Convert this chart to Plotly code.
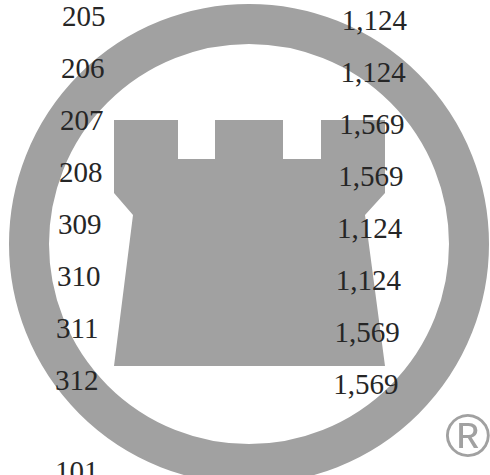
import plotly.graph_objects as go

# ---- data ----
row_labels = ["205", "206", "207", "208", "309", "310", "311", "312"]
row_values = [1124, 1124, 1569, 1569, 1124, 1124, 1569, 1569]
next_labels = ["101"]

W, H = 490, 475
GRAY = "#a1a1a1"
INK = "#262626"

n = len(row_labels)
row_pitch = 51.9
y_left = [19 + row_pitch * i for i in range(n)]
y_right = [y + 4 for y in y_left]
x_left = [62 - 1.0 * i for i in range(n)]
x_right = [407 - 1.2 * i for i in range(n)]

value_text = [f"{v:,}" for v in row_values]

fig = go.Figure()

font = dict(family="Liberation Serif", size=29, color=INK)
fig.add_trace(go.Scatter(
    x=x_left, y=y_left, mode="text", text=row_labels,
    textposition="middle right", textfont=font, cliponaxis=False,
    hoverinfo="skip", showlegend=False,
))
fig.add_trace(go.Scatter(
    x=x_right, y=y_right, mode="text", text=value_text,
    textposition="middle left", textfont=font, cliponaxis=False,
    hoverinfo="skip", showlegend=False,
))
fig.add_trace(go.Scatter(
    x=[55], y=[474], mode="text", text=next_labels,
    textposition="middle right", textfont=font, cliponaxis=False,
    hoverinfo="skip", showlegend=False,
))

# watermark logo: ring + castle
cx, cy, r_mid, ring_w = 249, 244, 220, 40
fig.add_shape(type="circle", xref="x", yref="y",
              x0=cx - r_mid, x1=cx + r_mid, y0=cy - r_mid, y1=cy + r_mid,
              line=dict(color=GRAY, width=ring_w), fillcolor="rgba(0,0,0,0)",
              layer="below")
castle = ("M114,120 L178,120 L178,159 L215,159 L215,120 L283,120 L283,159 "
          "L321,159 L321,120 L385,120 L385,193 L365,215 L385,366 L114,366 "
          "L133,215 L114,193 Z")
fig.add_shape(type="path", path=castle, xref="x", yref="y",
              fillcolor=GRAY, line=dict(width=0), layer="below")

fig.add_annotation(x=468, y=435, xref="x", yref="y", text="®", showarrow=False,
                   font=dict(family="Liberation Sans", size=62, color=GRAY),
                   xanchor="center", yanchor="middle")

fig.update_xaxes(range=[0, W], visible=False, fixedrange=True)
fig.update_yaxes(range=[H, 0], visible=False, fixedrange=True)
fig.update_layout(width=W, height=H, margin=dict(l=0, r=0, t=0, b=0),
                  paper_bgcolor="white", plot_bgcolor="white")

fig.write_html(
    "out.html",
    config={"displayModeBar": False},
    post_script="document.body.style.margin='0';document.body.style.overflow='hidden';",
)
